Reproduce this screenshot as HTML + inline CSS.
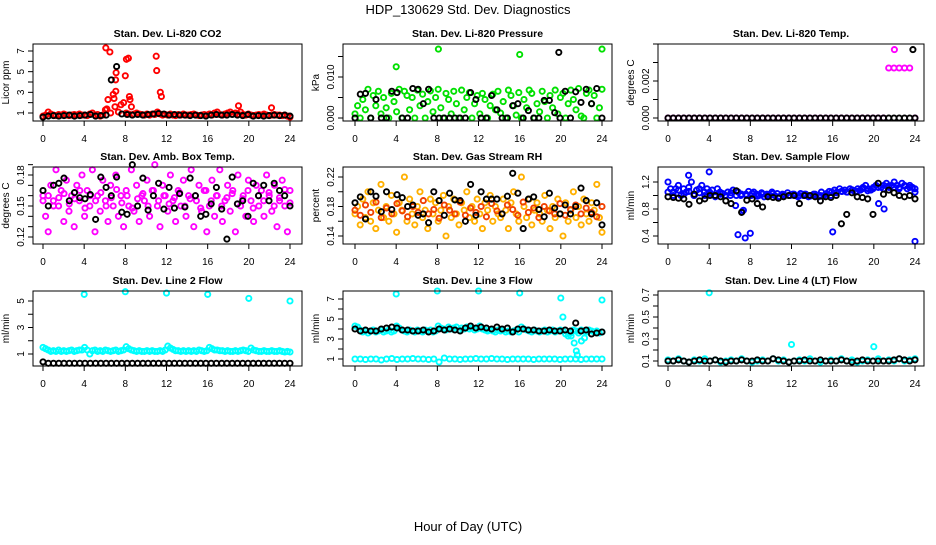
<!DOCTYPE html>
<html><head><meta charset="utf-8"><style>
body{margin:0;background:#fff;}
svg text{font-family:"Liberation Sans",sans-serif;}
</style></head><body>
<svg id="chart" width="936" height="540" viewBox="0 0 936 540" xmlns="http://www.w3.org/2000/svg">
<text x="468" y="14" text-anchor="middle" font-size="13">HDP_130629  Std. Dev. Diagnostics</text>
<text x="468" y="531" text-anchor="middle" font-size="13">Hour of Day (UTC)</text>
</svg>
<script>
const xTicks=[0,4,8,12,16,20,24];
// Panel 1: CO2
const co2Red=[0.7,0.8,1.1,0.9,0.8,0.75,0.85,0.8,0.9,0.8,0.75,0.8,0.85,0.8,0.9,0.8,0.8,0.75,0.9,1.0,0.8,0.85,0.7,0.8,1.3,2.3,1.0,2.8,3.1,1.1,1.8,2.0,1.0,0.9,1.6,0.9,1.0,0.9,0.85,0.8,0.9,0.8,0.9,0.85,1.1,0.9,0.8,0.85,0.8,0.9,0.8,0.75,0.85,0.8,0.9,0.8,0.8,0.85,0.9,0.8,0.75,0.8,0.85,0.8,0.9,0.8,1.0,1.1,0.85,0.8,0.9,1.0,1.1,0.9,1.0,0.9,1.1,0.85,0.8,0.9,0.8,0.75,0.8,0.85,0.8,0.9,0.8,0.75,0.8,0.85,0.8,0.8,0.75,0.8,0.7,0.6];
const co2OutHours=[6.1,6.5,7.1,7.05,8.1,8.3,8.4,8.45,11,11.05,11.4,11.5,6.2,19,22.2,7.0,6.9,8.0];
const co2OutValues=[7.3,6.9,4.9,4.2,6.2,6.3,2.6,2.3,6.5,5.1,3.0,2.6,1.4,1.7,1.5,1.6,2.4,4.6];
const co2Blk=[0.6,0.7,0.75,0.7,0.75,0.8,0.7,0.75,0.8,0.85,0.7,0.75,0.8,4.2,5.5,0.9,0.85,0.8,0.85,0.8,0.85,0.9,0.95,0.9,0.8,0.85,0.8,0.8,0.75,0.8,0.75,0.7,0.8,0.85,0.8,0.8,0.85,0.8,0.75,0.85,0.7,0.75,0.7,0.75,0.8,0.75,0.8,0.7];
// Panel 2: Pressure
const presGreen=[0.001,0.003,0,0.0045,0.002,0.007,0,0.0055,0.003,0.0065,0.001,0.005,0.0025,0,0.006,0.004,0.0015,0.007,0,0.0065,0.0055,0.002,0.005,0,0.0068,0.003,0.0058,0,0.004,0.0066,0.0015,0.005,0.007,0.0025,0,0.006,0.0045,0.001,0.0065,0.0035,0,0.0068,0.002,0.005,0.0062,0,0.0035,0.0055,0.001,0.006,0.0045,0,0.003,0.0058,0.002,0.0065,0.0012,0.004,0,0.0068,0.0055,0.003,0.0007,0.0062,0,0.0045,0.0025,0.0068,0.006,0,0.0035,0.0015,0.0065,0.004,0,0.0055,0.0025,0.0068,0.001,0.005,0.006,0,0.0035,0.0068,0.0045,0.002,0.0072,0.0005,0,0.006,0.0068,0.0035,0.0055,0,0.0025,0.007];
const presOutHours=[4,8.1,16,24];
const presOutValues=[0.0125,0.0168,0.0155,0.0168];
const presBlk=[0,0.0058,0.006,0,0.0045,0,0,0.0065,0.0062,0,0,0.0072,0.007,0.0035,0.007,0,0,0,0,0,0,0,0.0062,0.0045,0,0,0.0055,0.002,0,0,0.003,0.0035,0,0.0018,0,0,0.0043,0.0043,0.0013,0,0.0065,0,0.0064,0.0038,0.007,0.0035,0.0072,0];
const presBlkOutHours=[19.8];
const presBlkOutValues=[0.016];
// Panel 3: Li-820 temp
const tempMag=[0,0,0,0,0,0,0,0,0,0,0,0,0,0,0,0,0,0,0,0,0,0,0,0,0,0,0,0,0,0,0,0,0,0,0,0,0,0,0,0,0,0,0.0027,0.0027,0.0027,0.0027,0.0027,0];
const tempOutHours=[22];
const tempOutValues=[0.0037];
const tempBlk=[0,0,0,0,0,0,0,0,0,0,0,0,0,0,0,0,0,0,0,0,0,0,0,0,0,0,0,0,0,0,0,0,0,0,0,0,0,0,0,0,0,0,0,0,0,0,0,0];
const tempBlkOutHours=[23.8];
const tempBlkOutValues=[0.0037];
// Panel 4: Amb box temp
const ambMag=[0.16,0.14,0.125,0.17,0.155,0.185,0.15,0.165,0.135,0.175,0.145,0.16,0.13,0.17,0.155,0.18,0.14,0.165,0.15,0.185,0.125,0.16,0.145,0.175,0.155,0.135,0.17,0.15,0.18,0.14,0.16,0.13,0.165,0.15,0.185,0.145,0.17,0.135,0.16,0.155,0.175,0.14,0.165,0.19,0.15,0.13,0.17,0.16,0.145,0.18,0.155,0.135,0.165,0.15,0.175,0.14,0.16,0.185,0.13,0.155,0.17,0.145,0.165,0.125,0.15,0.175,0.14,0.16,0.185,0.135,0.155,0.17,0.145,0.165,0.125,0.18,0.15,0.16,0.14,0.175,0.155,0.135,0.17,0.15,0.165,0.14,0.18,0.16,0.145,0.17,0.13,0.155,0.175,0.15,0.125,0.165];
const ambMag2=[0.155,0.16,0.15,0.158,0.162,0.152,0.157,0.165,0.148,0.16,0.155,0.163,0.15,0.158,0.166,0.153,0.16,0.148,0.157,0.162,0.15,0.165,0.155,0.16,0.152,0.158,0.163,0.15,0.157,0.16,0.148,0.165,0.155,0.16,0.15,0.158,0.162,0.152,0.157,0.165,0.148,0.16,0.155,0.163,0.15,0.158,0.166,0.153];
const ambBlk=[0.165,0.15,0.17,0.172,0.177,0.155,0.163,0.158,0.157,0.161,0.137,0.178,0.168,0.16,0.178,0.144,0.142,0.19,0.15,0.177,0.146,0.16,0.172,0.147,0.168,0.148,0.162,0.149,0.177,0.16,0.14,0.142,0.152,0.168,0.147,0.118,0.178,0.152,0.155,0.14,0.172,0.16,0.17,0.155,0.172,0.165,0.16,0.15];
// Panel 5: RH
const rhOrange=[0.17,0.18,0.155,0.19,0.165,0.2,0.16,0.185,0.15,0.175,0.21,0.165,0.18,0.16,0.195,0.17,0.145,0.185,0.175,0.22,0.16,0.19,0.17,0.155,0.18,0.2,0.165,0.175,0.15,0.19,0.17,0.185,0.16,0.175,0.195,0.14,0.18,0.165,0.19,0.17,0.155,0.185,0.175,0.2,0.165,0.18,0.16,0.19,0.17,0.15,0.185,0.175,0.195,0.16,0.18,0.17,0.165,0.19,0.175,0.15,0.185,0.2,0.17,0.16,0.22,0.18,0.165,0.19,0.155,0.175,0.185,0.17,0.16,0.195,0.175,0.15,0.18,0.165,0.19,0.17,0.14,0.185,0.16,0.175,0.2,0.165,0.18,0.155,0.19,0.17,0.16,0.185,0.175,0.21,0.165,0.145];
const rhRed=[0.175,0.168,0.182,0.172,0.186,0.165,0.178,0.17,0.184,0.174,0.166,0.18,0.172,0.188,0.17,0.176,0.164,0.182,0.175,0.17,0.186,0.168,0.178,0.172,0.18,0.166,0.184,0.174,0.17,0.182,0.176,0.168,0.186,0.172,0.178,0.165,0.18,0.174,0.17,0.184,0.168,0.176,0.182,0.17,0.178,0.172,0.166,0.18];
const rhBlk=[0.185,0.193,0.163,0.2,0.194,0.173,0.2,0.176,0.196,0.192,0.18,0.182,0.168,0.17,0.158,0.2,0.188,0.168,0.198,0.189,0.188,0.16,0.21,0.168,0.2,0.19,0.19,0.19,0.17,0.194,0.225,0.198,0.15,0.19,0.193,0.176,0.166,0.198,0.178,0.17,0.182,0.17,0.18,0.205,0.188,0.17,0.185,0.155];
// Panel 6: Sample flow
const flowBlue=[1.2,1.1,1.05,1.1,1.15,1.0,1.1,1.05,1.12,1.2,1.0,1.08,1.1,1.15,1.05,1.1,1.05,1.08,1.0,1.1,1.05,1.03,1.0,1.05,1.0,1.08,0.85,1.05,1.0,0.78,1.02,1.06,1.0,1.05,1.02,1.0,1.04,0.98,1.02,1.0,1.05,1.0,1.03,0.98,1.02,1.0,1.04,1.0,1.02,1.0,0.98,1.03,1.0,1.02,0.98,1.0,1.02,1.0,0.98,1.05,1.0,1.03,1.06,1.05,1.08,1.05,1.1,1.06,1.08,1.05,1.1,1.08,1.05,1.1,1.08,1.12,1.15,1.1,1.08,1.12,1.15,0.88,1.12,1.15,1.18,1.12,1.15,1.2,1.15,1.12,1.18,1.15,1.1,1.15,1.12,1.05];
const flowBlue2=[1.05,1.0,1.08,1.02,1.06,1.0,1.04,1.0,1.03,0.98,1.02,1.0,1.04,1.0,1.02,1.0,1.03,0.99,1.02,1.0,1.03,0.98,1.01,1.0,1.02,1.0,1.02,0.99,1.02,1.0,1.02,1.0,1.04,1.06,1.05,1.08,1.06,1.1,1.07,1.1,1.12,1.1,1.14,1.12,1.1,1.14,1.12,1.1];
const flowOutHours=[2,4,6.8,7.5,8,16,24,7.2,21];
const flowOutValues=[1.3,1.35,0.42,0.37,0.44,0.46,0.32,0.76,0.8];
const flowBlk=[0.98,0.97,0.96,0.95,0.87,1.02,0.92,0.95,1.0,1.0,0.98,0.92,0.88,1.07,0.75,0.93,0.95,0.88,0.83,0.98,0.97,0.96,0.98,1.0,1.0,0.88,1.0,1.0,0.98,0.92,0.98,0.97,1.0,0.58,0.72,1.04,0.98,0.97,0.95,0.72,1.18,1.02,1.08,1.04,1.0,0.98,1.0,0.95];
// Panel 7: Line 2 flow
const line2Cyan=[1.5,1.4,1.3,1.2,1.25,1.2,1.3,1.2,1.25,1.2,1.25,1.3,1.2,1.25,1.3,1.3,1.5,1.3,1.0,1.25,1.3,1.2,1.25,1.2,1.3,1.25,1.2,1.25,1.3,1.2,1.25,1.3,1.55,1.4,1.3,1.25,1.2,1.25,1.2,1.2,1.25,1.2,1.25,1.2,1.2,1.25,1.2,1.3,1.6,1.45,1.35,1.25,1.25,1.2,1.25,1.2,1.25,1.2,1.25,1.2,1.3,1.25,1.2,1.25,1.5,1.4,1.3,1.3,1.25,1.25,1.2,1.25,1.2,1.2,1.25,1.2,1.25,1.3,1.25,1.2,1.45,1.3,1.25,1.2,1.2,1.25,1.2,1.2,1.25,1.2,1.2,1.25,1.2,1.15,1.2,1.15];
const line2OutHours=[4,8,12,16,20,24];
const line2OutValues=[5.5,5.7,5.6,5.5,5.2,5.0];
const line2Blk=[0.4,0.3,0.3,0.3,0.3,0.3,0.3,0.3,0.3,0.3,0.3,0.3,0.3,0.3,0.3,0.3,0.3,0.3,0.3,0.3,0.3,0.3,0.3,0.3,0.3,0.3,0.3,0.3,0.3,0.3,0.3,0.3,0.3,0.3,0.3,0.3,0.3,0.3,0.3,0.3,0.3,0.3,0.3,0.3,0.3,0.3,0.3,0.3];
// Panel 8: Line 3 flow
const line3Cyan=[4.3,4.2,3.9,3.7,3.8,3.6,3.8,3.9,3.7,3.8,3.9,3.7,3.8,3.9,3.7,3.8,4.3,4.1,3.9,3.8,3.7,3.9,3.8,3.7,3.9,3.8,3.7,3.9,3.8,3.9,3.7,3.8,4.3,4.1,4.0,3.9,4.2,4.0,4.1,4.2,3.9,4.1,4.0,4.2,4.0,4.1,3.9,4.0,4.3,4.0,3.9,3.8,3.9,3.8,3.7,3.9,3.8,3.9,3.7,3.8,3.7,3.8,3.9,3.7,4.2,4.0,3.9,3.8,3.7,3.9,3.8,3.7,3.8,3.9,3.7,3.8,3.9,3.7,3.8,3.9,3.8,3.5,3.3,3.6,3.9,3.8,3.6,3.9,3.8,3.7,3.9,3.8,3.7,3.8,3.6,3.7];
const line3Low=[1,1,0.95,1,1,0.9,1,1.05,0.95,1,1,1.05,1,1,0.95,1,0.7,1.1,1,1,0.95,1,1,1.05,1,1,1.05,1,1,0.95,1,1,1,1,0.95,1,1,1,1,0.95,1,1,1,0.95,1,1,1,1];
const line3OutHours=[4,8,12,16,20,20.2,21,21.3,21.5,21.6,22,22.3,24];
const line3OutValues=[7.5,7.8,7.8,7.6,7.1,5.2,3.3,2.6,1.8,1.4,2.8,3.1,6.9];
const line3Blk=[4.0,3.8,3.9,3.8,3.8,4.0,4.1,4.2,4.1,3.9,3.9,3.8,3.8,3.9,3.7,3.8,4.0,3.9,4.0,3.9,3.8,4.1,4.3,4.1,4.2,4.1,4.0,4.2,4.0,4.1,3.7,4.0,4.0,3.9,3.9,3.8,3.8,3.9,3.8,3.8,3.9,3.8,4.6,3.8,3.9,3.5,3.6,3.7];
// Panel 9: Line 4 flow
const line4Cyan=[0.11,0.1,0.12,0.1,0.09,0.11,0.1,0.12,0.1,0.11,0.09,0.1,0.11,0.1,0.12,0.1,0.09,0.1,0.11,0.1,0.12,0.1,0.11,0.09,0.1,0.11,0.1,0.12,0.1,0.09,0.1,0.11,0.1,0.12,0.1,0.11,0.09,0.1,0.11,0.1,0.12,0.1,0.11,0.1,0.12,0.1,0.11,0.12];
const line4OutHours=[4,12,20];
const line4OutValues=[0.72,0.25,0.23];
const line4Blk=[0.1,0.1,0.11,0.1,0.09,0.1,0.11,0.1,0.1,0.11,0.1,0.09,0.1,0.1,0.11,0.1,0.1,0.11,0.1,0.1,0.12,0.11,0.1,0.09,0.1,0.1,0.11,0.1,0.1,0.11,0.1,0.1,0.1,0.11,0.1,0.09,0.1,0.11,0.1,0.1,0.1,0.1,0.1,0.11,0.12,0.11,0.1,0.11];
// tick labels
const co2Ticks=[1,2,3,4,5,6,7], co2Labels=["1","","3","","5","","7"];
const presTicks=[0,0.005,0.010,0.015], presLabels=["0.000","","0.010",""];
const tempTicks=[0,0.001,0.002,0.003,0.004], tempLabels=["0.000","","0.002","",""];
const ambTicks=[0.12,0.13,0.14,0.15,0.16,0.17,0.18,0.19], ambLabels=["0.12","","","0.15","","","0.18",""];
const rhTicks=[0.14,0.16,0.18,0.20,0.22], rhLabels=["0.14","","0.18","","0.22"];
const flowTicks=[0.4,0.6,0.8,1.0,1.2], flowLabels=["0.4","","0.8","","1.2"];
const line2Ticks=[1,2,3,4,5], line2Labels=["1","","3","","5"];
const line3Ticks=[1,2,3,4,5,6,7], line3Labels=["1","","3","","5","","7"];
const line4Ticks=[0.1,0.2,0.3,0.4,0.5,0.6,0.7], line4Labels=["0.1","","0.3","","0.5","","0.7"];

const NS="http://www.w3.org/2000/svg";
const svg=document.getElementById('chart');
function mk(tag,attrs,parent){const e=document.createElementNS(NS,tag);for(const k in attrs)e.setAttribute(k,attrs[k]);(parent||svg).appendChild(e);return e;}
const cols=[{l:33,r:302,x0:43,x24:290},{l:343,r:612,x0:355,x24:602},{l:658,r:924,x0:668,x24:915}];
const rows=[{t:44,b:121},{t:167,b:244},{t:291,b:366}];
const panels=[
 {c:0,r:0,id:'co2',title:'Stan. Dev. Li-820 CO2',ylab:'Licor ppm',v1:1,p1:113,v2:7,p2:51,ticks:co2Ticks,labels:co2Labels,
  series:[{v:co2Red,col:'#ff0000'},{h:co2OutHours,v:co2OutValues,col:'#ff0000'},{v:co2Blk,col:'#000'}]},
 {c:1,r:0,id:'pressure',title:'Stan. Dev. Li-820 Pressure',ylab:'kPa',v1:0,p1:118,v2:0.010,p2:77,ticks:presTicks,labels:presLabels,
  series:[{v:presGreen,col:'#00e000'},{h:presOutHours,v:presOutValues,col:'#00e000'},{v:presBlk,col:'#000'},{h:presBlkOutHours,v:presBlkOutValues,col:'#000'}]},
 {c:2,r:0,id:'li820-temp',title:'Stan. Dev. Li-820 Temp.',ylab:'degrees C',v1:0,p1:118,v2:0.002,p2:81,ticks:tempTicks,labels:tempLabels,
  series:[{v:tempMag,col:'#ff00ff'},{h:tempOutHours,v:tempOutValues,col:'#ff00ff'},{v:tempBlk,col:'#000'},{h:tempBlkOutHours,v:tempBlkOutValues,col:'#000'}]},
 {c:0,r:1,id:'amb-box-temp',title:'Stan. Dev. Amb. Box Temp.',ylab:'degrees C',v1:0.12,p1:237,v2:0.18,p2:175,ticks:ambTicks,labels:ambLabels,
  series:[{v:ambMag,col:'#ff00ff'},{v:ambMag2,col:'#ff00ff'},{v:ambBlk,col:'#000'}]},
 {c:1,r:1,id:'gas-rh',title:'Stan. Dev. Gas Stream RH',ylab:'percent',v1:0.14,p1:236,v2:0.22,p2:177,ticks:rhTicks,labels:rhLabels,
  series:[{v:rhOrange,col:'#ffb000'},{v:rhRed,col:'#f04000'},{v:rhBlk,col:'#000'}]},
 {c:2,r:1,id:'sample-flow',title:'Stan. Dev. Sample Flow',ylab:'ml/min',v1:0.4,p1:236,v2:1.2,p2:182,ticks:flowTicks,labels:flowLabels,
  series:[{v:flowBlue,col:'#0000ff'},{v:flowBlue2,col:'#0000ff'},{h:flowOutHours,v:flowOutValues,col:'#0000ff'},{v:flowBlk,col:'#000'}]},
 {c:0,r:2,id:'line2-flow',title:'Stan. Dev. Line 2 Flow',ylab:'ml/min',v1:1,p1:354,v2:5,p2:301,ticks:line2Ticks,labels:line2Labels,
  series:[{v:line2Cyan,col:'#00ffff'},{h:line2OutHours,v:line2OutValues,col:'#00ffff'},{v:line2Blk,col:'#000'}]},
 {c:1,r:2,id:'line3-flow',title:'Stan. Dev. Line 3 Flow',ylab:'ml/min',v1:1,p1:359,v2:7,p2:299,ticks:line3Ticks,labels:line3Labels,
  series:[{v:line3Cyan,col:'#00ffff'},{v:line3Low,col:'#00ffff'},{h:line3OutHours,v:line3OutValues,col:'#00ffff'},{v:line3Blk,col:'#000'}]},
 {c:2,r:2,id:'line4-flow',title:'Stan. Dev. Line 4 (LT) Flow',ylab:'ml/min',v1:0.1,p1:361,v2:0.7,p2:295,ticks:line4Ticks,labels:line4Labels,
  series:[{v:line4Cyan,col:'#00ffff'},{h:line4OutHours,v:line4OutValues,col:'#00ffff'},{v:line4Blk,col:'#000'}]}
];
panels.forEach(p=>{
  const C=cols[p.c],R=rows[p.r];
  const g=mk('g',{});
  
  
  const xs=h=>C.x0+(C.x24-C.x0)*h/24;
  const ys=v=>p.p1+(p.p2-p.p1)*(v-p.v1)/(p.v2-p.v1);
  const t=mk('text',{x:(C.l+C.r)/2,y:R.t-7,'text-anchor':'middle','font-size':'10.5','font-weight':'bold'},g);
  t.textContent=p.title;
  
  
  const pts=mk('g',{fill:'none','stroke-width':'1.9'},g);
  
  
  p.series.forEach(s=>{
    s.v.forEach((v,i)=>{
      const h=s.h?s.h[i]:i*24/(s.v.length-1);
      const c=mk('circle',{cx:xs(h).toFixed(1),cy:ys(v).toFixed(1),r:'2.6',stroke:s.col},pts);
      
      
    });
  });
  const box=mk('rect',{x:C.l,y:R.t,width:C.r-C.l,height:R.b-R.t,fill:'none',stroke:'#000','stroke-width':'1'},g);
  
  
  const xa=mk('g',{},g);
  
  
  xTicks.forEach(h=>{
    mk('line',{x1:xs(h),x2:xs(h),y1:R.b,y2:R.b+5,stroke:'#000'},xa);
    const l=mk('text',{x:xs(h),y:R.b+21,'text-anchor':'middle','font-size':'10'},xa);
    l.textContent=h;
  });
  const ya=mk('g',{},g);
  
  
  p.ticks.forEach((v,i)=>{
    const y=ys(v);
    mk('line',{x1:C.l-5,x2:C.l,y1:y,y2:y,stroke:'#000'},ya);
    if(p.labels[i]){
      const l=mk('text',{x:C.l-9,y:y,'text-anchor':'middle','font-size':'10',transform:`rotate(-90 ${C.l-9} ${y})`},ya);
      l.textContent=p.labels[i];
    }
  });
  const yl=mk('text',{x:C.l-24,y:(R.t+R.b)/2,'text-anchor':'middle','font-size':'10',transform:`rotate(-90 ${C.l-24} ${(R.t+R.b)/2})`},g);
  yl.textContent=p.ylab;
  
  
});
</script>
</body></html>
